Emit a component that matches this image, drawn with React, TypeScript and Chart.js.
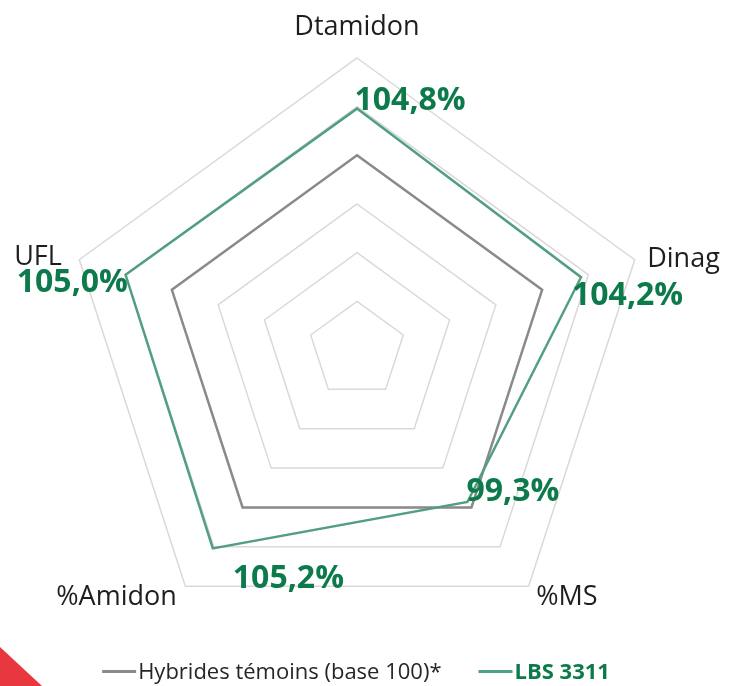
import React, { useEffect, useRef } from "react";
import { Chart, registerables } from "chart.js";

Chart.register(...registerables);

// ---- data ----
const categories = ["Dtamidon", "Dinag", "%MS", "%Amidon", "UFL"];
const temoinValues = [100, 100, 100, 100, 100];
const lbsValues = [104.8, 104.2, 99.3, 105.2, 105.0];
const seriesNames = ["Hybrides témoins (base 100)*", "LBS 3311"];
const scaleMin = 80;
const scaleMax = 110;
const scaleStep = 5;

// ---- styles / placement ----
const FONT = "'Open Sans', 'DejaVu Sans', sans-serif";
const GRAY = "#8a8a8a";
const GREEN_LINE = "#519f80";
const GREEN_TEXT = "#0d7a4b";
const AXIS_TEXT = "#1e1e1e";

// offsets of axis names relative to the outer polygon vertex
const pointLabelPlacement = [
  { dx: 0, dy: -23, align: "center" },
  { dx: 12.5, dy: 7, align: "left" },
  { dx: 7.6, dy: 19, align: "left" },
  { dx: -8.6, dy: 19, align: "right" },
  { dx: -17.4, dy: 5, align: "right" },
];
// offsets of value labels relative to the LBS point
const valueLabelPlacement = [
  { dx: -2.5, dy: 1.5, align: "left" },
  { dx: -9, dy: 27.5, align: "left" },
  { dx: -1, dy: -0.5, align: "left" },
  { dx: 20, dy: 40, align: "left" },
  { dx: 2.3, dy: 17, align: "right" },
];

const fmt = (v: number) => v.toFixed(1).replace(".", ",") + "%";

const labelPlugin = {
  id: "customLabels",
  afterDatasetsDraw(chart: any) {
    const ctx = chart.ctx;
    const scale = chart.scales.r;
    ctx.save();
    ctx.textBaseline = "alphabetic";

    // axis names
    ctx.font = `400 27px ${FONT}`;
    ctx.fillStyle = AXIS_TEXT;
    categories.forEach((name, i) => {
      const p = scale.getPointPosition(i, scale.drawingArea);
      const pl = pointLabelPlacement[i];
      ctx.textAlign = pl.align;
      ctx.fillText(name, p.x + pl.dx, p.y + pl.dy);
    });

    // value labels for LBS series
    ctx.font = `700 32px ${FONT}`;
    ctx.fillStyle = GREEN_TEXT;
    lbsValues.forEach((v, i) => {
      const p = scale.getPointPositionForValue(i, v);
      const pl = valueLabelPlacement[i];
      ctx.textAlign = pl.align;
      ctx.fillText(fmt(v), p.x + pl.dx, p.y + pl.dy);
    });

    // legend
    const items = [
      { text: chart.data.datasets[0].label, color: GRAY, textColor: "#262626", weight: 400 },
      { text: chart.data.datasets[1].label, color: GREEN_LINE, textColor: GREEN_TEXT, weight: 700 },
    ];
    const lineW = 34;
    const gap = 37;
    const ly = 671.5;
    const baseY = 678.5;
    const widths = items.map((it) => {
      ctx.font = `${it.weight} 22px ${FONT}`;
      return lineW + 2 + ctx.measureText(it.text).width;
    });
    const total = widths.reduce((a, b) => a + b, 0) + gap * (items.length - 1);
    let x = 356 - total / 2;
    ctx.textAlign = "left";
    items.forEach((it, i) => {
      ctx.strokeStyle = it.color;
      ctx.lineWidth = 3;
      ctx.beginPath();
      ctx.moveTo(x, ly);
      ctx.lineTo(x + lineW, ly);
      ctx.stroke();
      ctx.font = `${it.weight} 22px ${FONT}`;
      ctx.fillStyle = it.textColor;
      ctx.fillText(it.text, x + lineW + 2, baseY);
      x += widths[i] + gap;
    });
    ctx.restore();
  },
};

export default function App() {
  const ref = useRef<HTMLCanvasElement>(null);
  useEffect(() => {
    if (!ref.current) return;
    const chart = new Chart(ref.current, {
      type: "radar",
      data: {
        labels: categories,
        datasets: [
          {
            label: seriesNames[0],
            data: temoinValues,
            borderColor: GRAY,
            borderWidth: 2.5,
            pointRadius: 0,
            fill: false,
            order: 2,
          },
          {
            label: seriesNames[1],
            data: lbsValues,
            borderColor: GREEN_LINE,
            borderWidth: 2.5,
            pointRadius: 0,
            fill: false,
            order: 1,
          },
        ],
      },
      options: {
        responsive: false,
        animation: false,
        layout: { padding: { left: 65, right: 82, top: 58, bottom: 43 } },
        elements: { line: { tension: 0 } },
        scales: {
          r: {
            min: scaleMin,
            max: scaleMax,
            ticks: { display: false, stepSize: scaleStep },
            grid: { color: "#d9d9d9", lineWidth: 1.5 },
            angleLines: { display: false },
            pointLabels: { display: false },
          },
        },
        plugins: {
          legend: { display: false },
          tooltip: { enabled: false },
        },
      },
      plugins: [labelPlugin],
    });
    return () => chart.destroy();
  }, []);

  return (
    <div style={{ position: "fixed", left: 0, top: 0, width: 732, height: 686, background: "#fff", overflow: "hidden" }}>
      <canvas ref={ref} width={732} height={686} style={{ display: "block" }} />
      <div
        style={{
          position: "absolute",
          left: 0,
          top: 647,
          width: 42,
          height: 39,
          background: "#e8373f",
          clipPath: "polygon(0 0, 0 100%, 100% 100%)",
        }}
      />
    </div>
  );
}
